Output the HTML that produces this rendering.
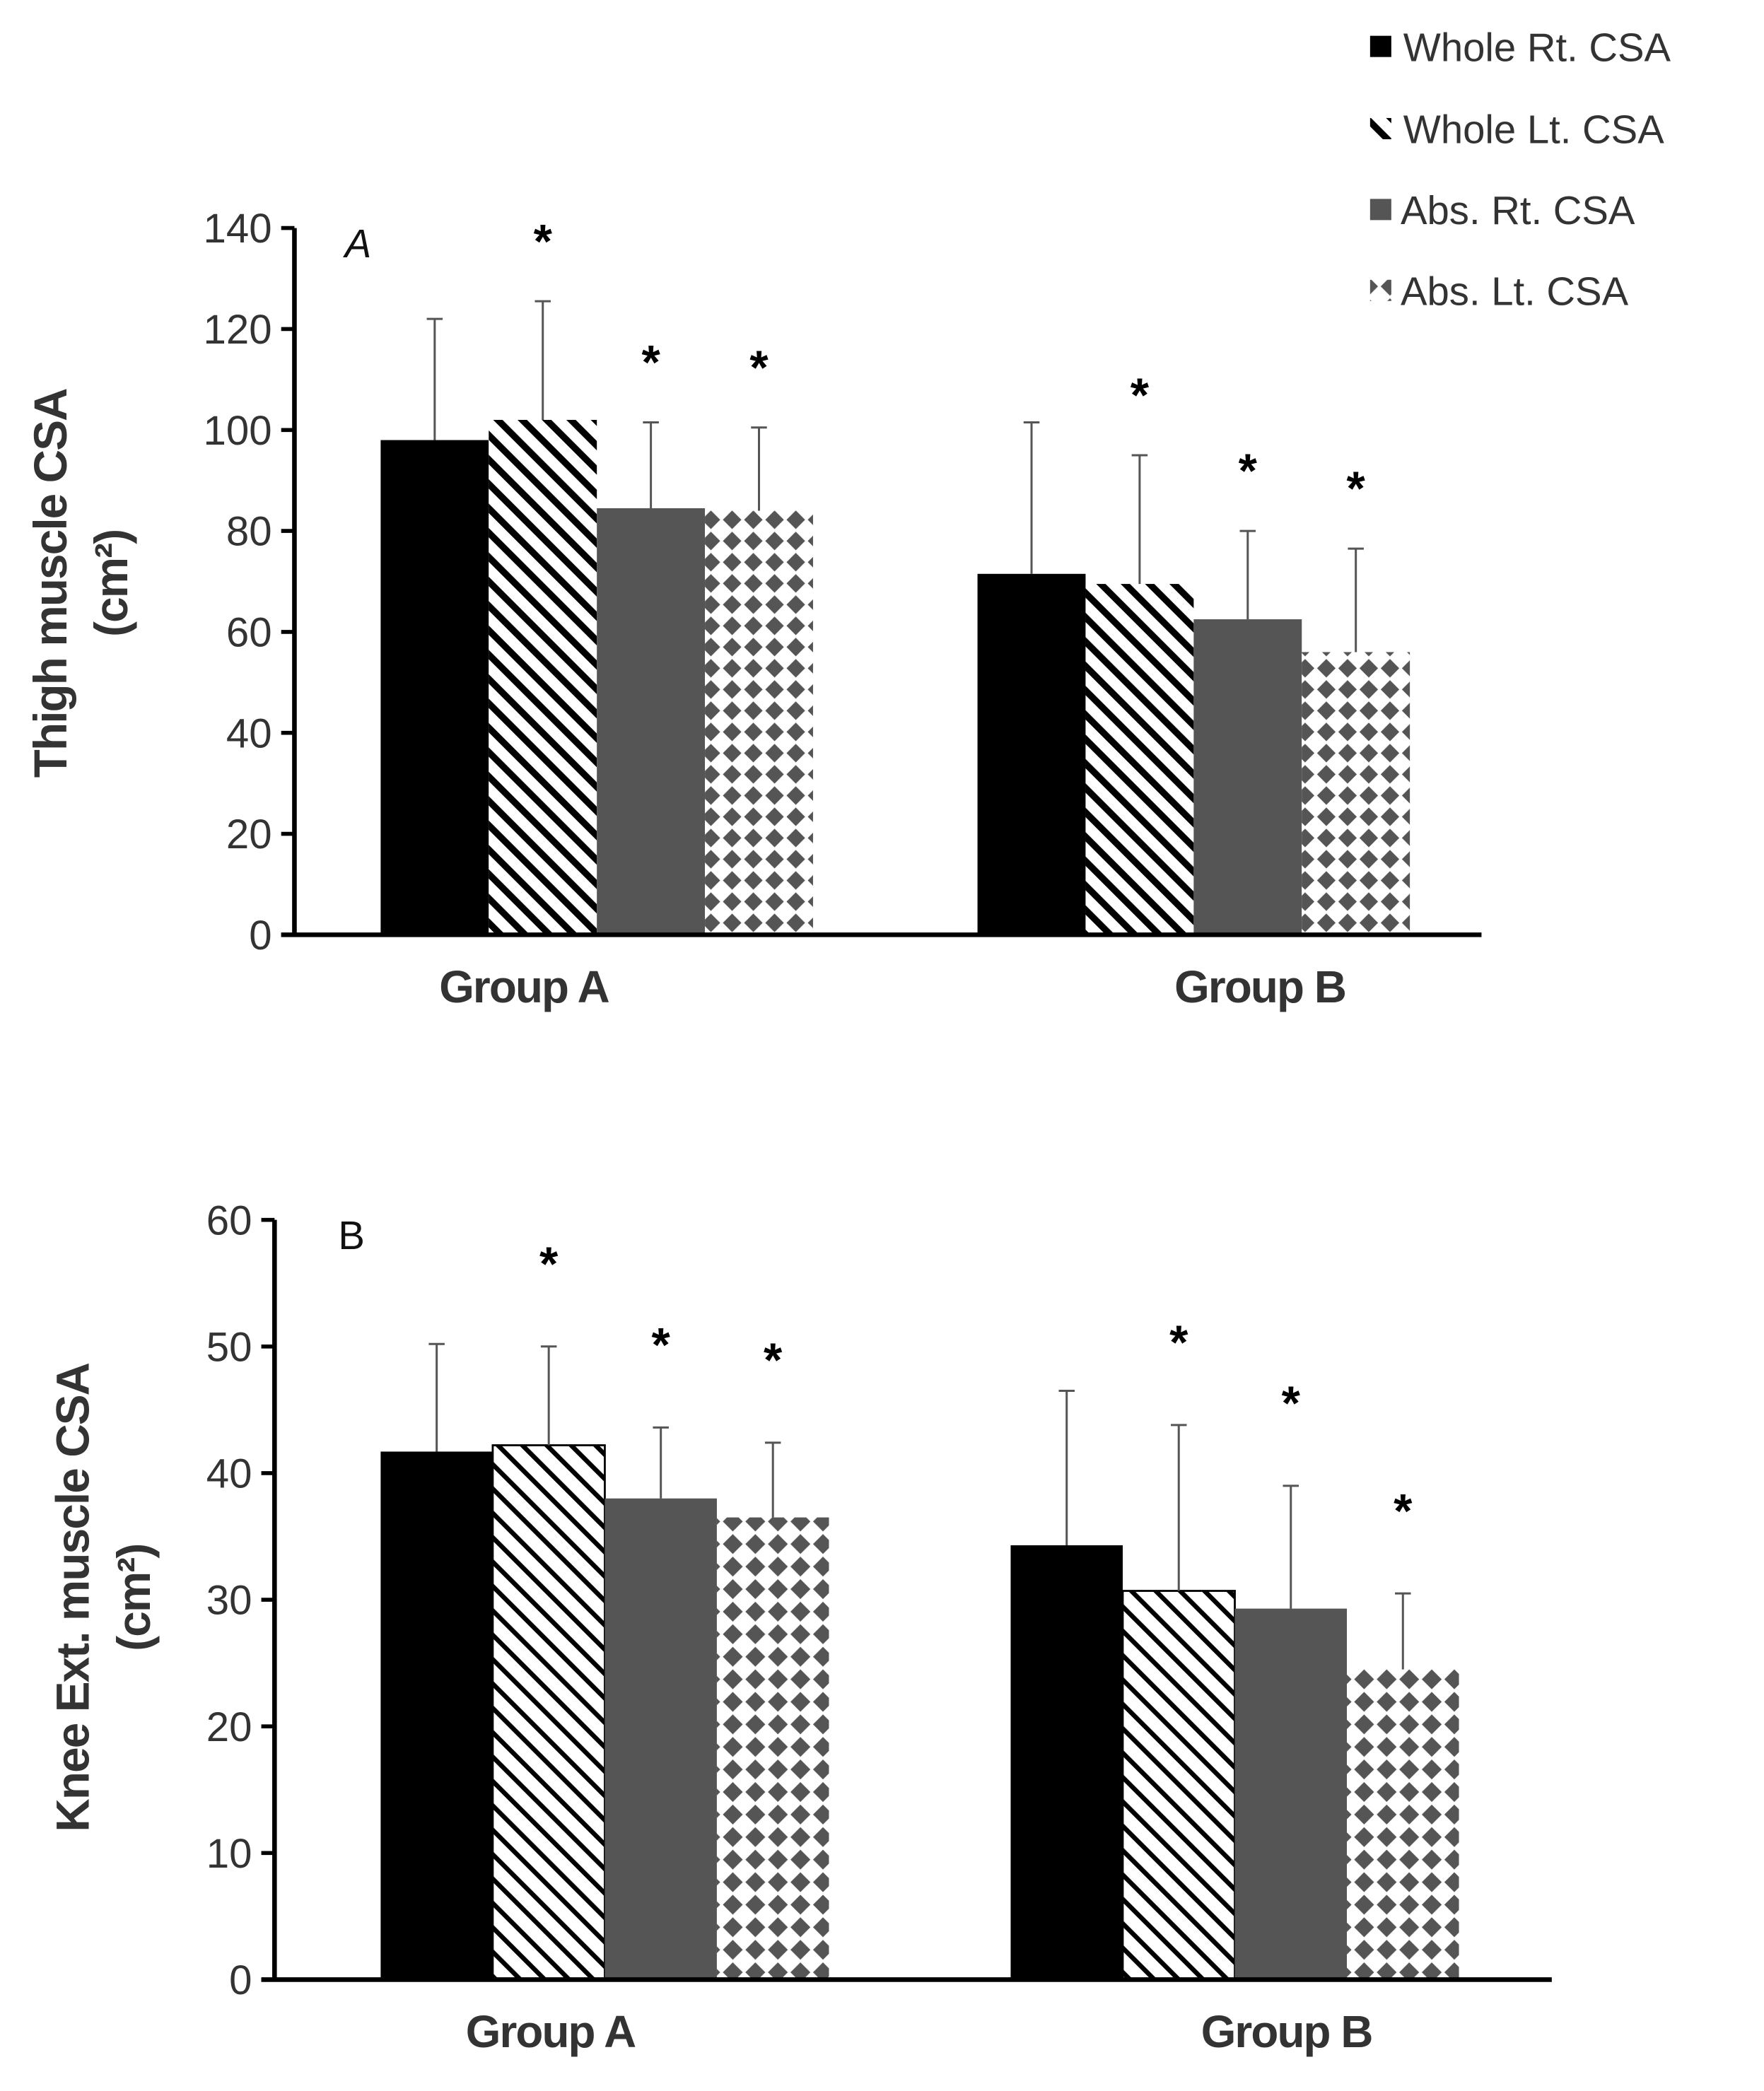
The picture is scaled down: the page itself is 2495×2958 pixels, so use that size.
<!DOCTYPE html>
<html><head><meta charset="utf-8"><style>
html,body{margin:0;padding:0;background:#fff;}
svg{display:block;}
text{font-family:"Liberation Sans",Arial,sans-serif;}
</style></head><body>
<svg id="chart" width="2495" height="2958" viewBox="0 0 1330 1577" preserveAspectRatio="none" xmlns="http://www.w3.org/2000/svg">
<defs>
<pattern id="hatchA" patternUnits="userSpaceOnUse" width="13" height="13" patternTransform="rotate(-45)">
<rect width="13" height="13" fill="#fff"/><rect x="0" y="0" width="5" height="13" fill="#000"/></pattern>
<pattern id="hatchB" patternUnits="userSpaceOnUse" width="13" height="13" patternTransform="rotate(-45)">
<rect width="13" height="13" fill="#fff"/><rect x="0" y="0" width="3.5" height="13" fill="#000"/></pattern>
<pattern id="diamA" patternUnits="userSpaceOnUse" width="16" height="16">
<rect width="16" height="16" fill="#fff"/><polygon points="8,1 15,8 8,15 1,8" fill="#555"/></pattern>
<pattern id="diamB" patternUnits="userSpaceOnUse" width="17" height="17">
<rect width="17" height="17" fill="#fff"/><polygon points="8.5,1 16,8.5 8.5,16 1,8.5" fill="#555"/></pattern>
</defs>
<g id="legend">
<g><rect x="1033" y="27" width="16" height="16" fill="#000"/><text x="1058" y="46" font-size="30" fill="#333">Whole Rt. CSA</text></g>
<g><rect x="1033" y="89" width="16" height="16" fill="url(#hatchA)"/><text x="1058" y="108" font-size="30" fill="#333">Whole Lt. CSA</text></g>
<g><rect x="1033" y="150" width="16" height="16" fill="#555"/><text x="1056" y="169" font-size="30" fill="#333">Abs. Rt. CSA</text></g>
<g><rect x="1033" y="211" width="16" height="16" fill="url(#diamA)"/><text x="1056" y="230" font-size="30" fill="#333">Abs. Lt. CSA</text></g>
</g>
<g id="panelA"></g>
<g id="panelB"></g>
</svg>
<script>
const NS="http://www.w3.org/2000/svg";
const groups=["Group A","Group B"];
const seriesNames=["Whole Rt. CSA","Whole Lt. CSA","Abs. Rt. CSA","Abs. Lt. CSA"];
const thighMeans=[[98,102,84.5,84],[71.5,69.5,62.5,56]];
const thighErrTop=[[122,125.5,101.5,100.5],[101.5,95,80,76.5]];
const thighStars=[[false,true,true,true],[false,true,true,true]];
const thighTicks=[0,20,40,60,80,100,120,140];
const kneeMeans=[[41.7,42.2,38,36.5],[34.3,30.7,29.3,24.5]];
const kneeErrTop=[[50.2,50,43.6,42.4],[46.5,43.8,39,30.5]];
const kneeStars=[[false,true,true,true],[false,true,true,true]];
const kneeTicks=[0,10,20,30,40,50,60];

function el(tag,attrs,parent,txt){const e=document.createElementNS(NS,tag);for(const k in attrs)e.setAttribute(k,attrs[k]);if(txt!==undefined)e.textContent=txt;parent.appendChild(e);return e;}

function draw(cfg){
  const g=document.getElementById(cfg.id);
  const y=v=>cfg.y0-(v/cfg.max)*(cfg.y0-cfg.yTop);
  for(let gi=0;gi<groups.length;gi++){
    for(let si=0;si<seriesNames.length;si++){
      const x=cfg.groupStart[gi]+si*cfg.bw;
      const v=cfg.means[gi][si];
      const fills=["#000",cfg.hatch,"#555",cfg.diam];
      const r=el("rect",{x:x,y:y(v),width:cfg.bw,height:cfg.y0-y(v),fill:fills[si]},g);
      if(si===1&&cfg.outline){r.setAttribute("stroke","#000");r.setAttribute("stroke-width","1.5");}
      
      
      const cx=x+cfg.bw/2, et=y(cfg.err[gi][si]);
      const eb=el("path",{d:`M${cx},${y(v)}V${et}M${cx-6},${et}H${cx+6}`,stroke:"#555","stroke-width":"1.6",fill:"none"},g);
      
      
      if(cfg.stars[gi][si]){
        const st=el("text",{x:cx,y:et-cfg.starGap+22,"font-size":"36","text-anchor":"middle","font-weight":"bold",fill:"#000"},g,"*");
        
        
      }
    }
    const gl=el("text",{x:cfg.groupStart[gi]+2*cfg.bw+cfg.labelDx[gi],y:cfg.y0+51,"font-size":"34","font-weight":"bold","text-anchor":"middle",fill:"#333","letter-spacing":"-1"},g,groups[gi]);
    
    
  }
  const ax=el("path",{d:`M${cfg.ax},${cfg.yTop}V${cfg.y0}M${cfg.ax-10},${cfg.y0}H${cfg.xEnd}`,stroke:"#000","stroke-width":"3.5",fill:"none"},g);
  
  
  cfg.ticks.forEach(t=>{
    el("line",{x1:cfg.ax-10,x2:cfg.ax,y1:y(t),y2:y(t),stroke:"#000","stroke-width":"3"},g);
    const tl=el("text",{x:cfg.ax-17,y:y(t)+11,"font-size":"31","text-anchor":"end",fill:"#333"},g,String(t));
    
    
  });
  const pl=el("text",{x:cfg.ax+cfg.plx,y:cfg.yTop+22,"font-size":"30","font-style":cfg.italic?"italic":"normal",fill:"#111"},g,cfg.panel);
  
  
  const t=el("text",{transform:`translate(${cfg.titleX},${cfg.titleY}) rotate(-90)`,"font-size":"35","font-weight":"bold","text-anchor":"middle",fill:"#333","letter-spacing":"-1"},g);
  
  
  el("tspan",{x:0,dy:0},t,cfg.title);
  el("tspan",{x:0,dy:46},t,"(cm²)");
}
draw({id:"panelA",y0:705,yTop:172,max:140,ax:222,xEnd:1117,groupStart:[287,737],bw:81.5,means:thighMeans,err:thighErrTop,stars:thighStars,ticks:thighTicks,hatch:"url(#hatchA)",diam:"url(#diamA)",outline:false,starGap:55,labelDx:[-55,50],panel:"A",italic:true,plx:38,titleX:50,titleY:440,title:"Thigh muscle CSA"});
draw({id:"panelB",y0:1493,yTop:920,max:60,ax:207,xEnd:1170,groupStart:[287,762],bw:84.5,means:kneeMeans,err:kneeErrTop,stars:kneeStars,ticks:kneeTicks,hatch:"url(#hatchB)",diam:"url(#diamB)",outline:true,starGap:72,labelDx:[-41,39],panel:"B",italic:false,plx:48,titleX:67,titleY:1205,title:"Knee Ext. muscle CSA"});
</script>
</body></html>
